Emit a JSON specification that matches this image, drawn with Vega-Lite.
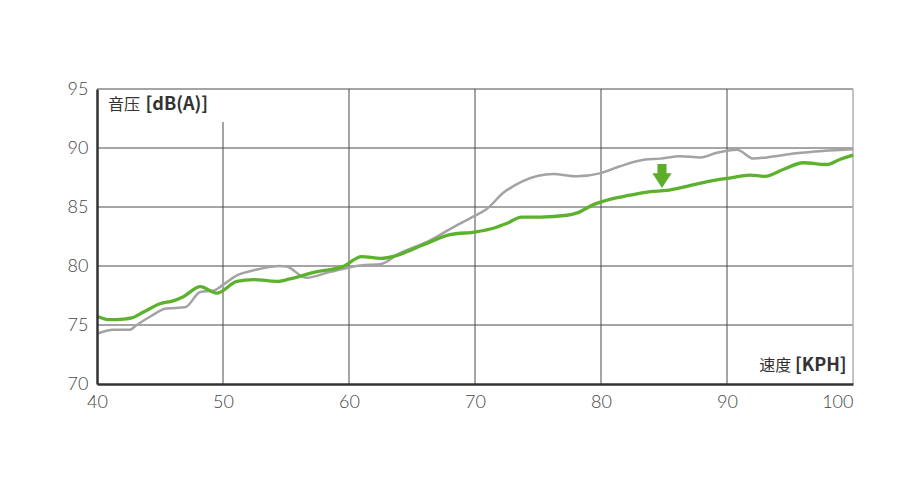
{
  "$schema": "https://vega.github.io/schema/vega-lite/v6.json",
  "autosize": {"type": "none"},
  "width": 756,
  "height": 295,
  "padding": {"left": 97, "top": 89, "right": 67, "bottom": 96},
  "background": "white",
  "config": {"view": {"stroke": null}},
  "datasets": {
    "green": [
      {"speed": 40.0, "db": 75.75}, {"speed": 41.0, "db": 75.45}, {"speed": 42.1, "db": 75.5}, {"speed": 42.75, "db": 75.6},
      {"speed": 43.7, "db": 76.1}, {"speed": 45.0, "db": 76.8}, {"speed": 46.05, "db": 77.05}, {"speed": 46.85, "db": 77.4},
      {"speed": 48.2, "db": 78.25}, {"speed": 49.5, "db": 77.7}, {"speed": 51.1, "db": 78.7}, {"speed": 52.4, "db": 78.85},
      {"speed": 54.3, "db": 78.7}, {"speed": 55.3, "db": 78.9}, {"speed": 57.4, "db": 79.5}, {"speed": 59.0, "db": 79.8},
      {"speed": 59.5, "db": 79.95}, {"speed": 61.0, "db": 80.8}, {"speed": 62.5, "db": 80.65}, {"speed": 63.8, "db": 80.9},
      {"speed": 65.9, "db": 81.8}, {"speed": 68.0, "db": 82.65}, {"speed": 70.1, "db": 82.9}, {"speed": 71.45, "db": 83.2},
      {"speed": 72.5, "db": 83.6}, {"speed": 73.7, "db": 84.15}, {"speed": 75.2, "db": 84.15}, {"speed": 77.3, "db": 84.3},
      {"speed": 78.1, "db": 84.5}, {"speed": 79.4, "db": 85.2}, {"speed": 80.7, "db": 85.65}, {"speed": 82.3, "db": 86.0},
      {"speed": 83.9, "db": 86.3}, {"speed": 85.2, "db": 86.4}, {"speed": 86.8, "db": 86.75}, {"speed": 88.65, "db": 87.2},
      {"speed": 90.2, "db": 87.45}, {"speed": 91.8, "db": 87.7}, {"speed": 93.0, "db": 87.6}, {"speed": 94.5, "db": 88.2},
      {"speed": 96.05, "db": 88.75}, {"speed": 97.9, "db": 88.6}, {"speed": 99.0, "db": 89.05}, {"speed": 100.0, "db": 89.4}
    ],
    "gray": [
      {"speed": 40.0, "db": 74.25}, {"speed": 41.3, "db": 74.6}, {"speed": 42.6, "db": 74.6}, {"speed": 43.15, "db": 75.0},
      {"speed": 44.2, "db": 75.7}, {"speed": 45.5, "db": 76.4}, {"speed": 47.0, "db": 76.5}, {"speed": 48.2, "db": 77.8},
      {"speed": 49.2, "db": 77.9}, {"speed": 50.0, "db": 78.4}, {"speed": 51.1, "db": 79.2}, {"speed": 52.7, "db": 79.7},
      {"speed": 54.5, "db": 80.0}, {"speed": 55.05, "db": 79.95}, {"speed": 56.6, "db": 79.0}, {"speed": 58.5, "db": 79.5},
      {"speed": 60.9, "db": 80.05}, {"speed": 62.5, "db": 80.15}, {"speed": 64.05, "db": 81.1}, {"speed": 66.2, "db": 82.05},
      {"speed": 68.3, "db": 83.3}, {"speed": 69.9, "db": 84.2}, {"speed": 70.9, "db": 84.8}, {"speed": 72.25, "db": 86.2},
      {"speed": 73.8, "db": 87.2}, {"speed": 76.2, "db": 87.8}, {"speed": 78.1, "db": 87.6}, {"speed": 79.9, "db": 87.85},
      {"speed": 81.5, "db": 88.45}, {"speed": 83.4, "db": 89.0}, {"speed": 84.7, "db": 89.1}, {"speed": 86.3, "db": 89.3},
      {"speed": 87.9, "db": 89.2}, {"speed": 89.2, "db": 89.6}, {"speed": 90.8, "db": 89.85}, {"speed": 92.1, "db": 89.1},
      {"speed": 93.15, "db": 89.2}, {"speed": 95.5, "db": 89.55}, {"speed": 97.6, "db": 89.75}, {"speed": 100.0, "db": 89.9}
    ]
  },
  "layer": [
    {
      "data": {"values": [
        {"sx": 50, "top": 92.2}, {"sx": 60, "top": 95}, {"sx": 70, "top": 95}, {"sx": 80, "top": 95}, {"sx": 90, "top": 95}
      ]},
      "mark": {"type": "rule", "color": "#4a4a4a", "strokeWidth": 1},
      "encoding": {
        "x": {"field": "sx", "type": "quantitative", "scale": {"domain": [40, 100], "nice": false, "zero": false},
          "axis": {"values": [40, 50, 60, 70, 80, 90, 100], "grid": false, "ticks": false, "domainColor": "#333333", "domainWidth": 2.5,
            "labelFont": "Lato", "labelFontWeight": 300, "labelFontSize": 18, "labelColor": "#444444", "labelPadding": 9,
            "labelAlign": {"expr": "datum.value == 100 ? 'right' : 'center'"},
            "title": null, "zindex": 2}},
        "y": {"field": "top", "type": "quantitative", "scale": {"domain": [70, 95], "nice": false, "zero": false},
          "axis": {"values": [70, 75, 80, 85, 90, 95], "grid": false, "ticks": false, "domainColor": "#333333", "domainWidth": 2.5,
            "labelFont": "Lato", "labelFontWeight": 300, "labelFontSize": 18, "labelColor": "#444444", "labelPadding": 9,
            "title": null, "zindex": 2}},
        "y2": {"datum": 70}
      }
    },
    {
      "data": {"values": [{"g": 75}, {"g": 80}, {"g": 85}, {"g": 90}, {"g": 95}]},
      "mark": {"type": "rule", "color": "#4a4a4a", "strokeWidth": 1},
      "encoding": {"y": {"field": "g", "type": "quantitative"}}
    },
    {
      "data": {"values": [{"sx": 100}]},
      "mark": {"type": "rule", "color": "#b0b0b0", "strokeWidth": 1.5},
      "encoding": {"x": {"field": "sx", "type": "quantitative"}}
    },
    {
      "data": {"name": "gray"},
      "mark": {"type": "line", "color": "#a3a3a3", "strokeWidth": 2.5, "interpolate": "monotone"},
      "encoding": {
        "x": {"field": "speed", "type": "quantitative"},
        "y": {"field": "db", "type": "quantitative"}
      }
    },
    {
      "data": {"name": "green"},
      "mark": {"type": "line", "color": "#5cb22d", "strokeWidth": 3.3, "interpolate": "monotone"},
      "encoding": {
        "x": {"field": "speed", "type": "quantitative"},
        "y": {"field": "db", "type": "quantitative"}
      }
    },
    {
      "data": {"values": [{"speed": 84.84, "db": 87.63}]},
      "mark": {"type": "point", "filled": true, "color": "#5cae2a", "opacity": 1, "size": 576,
        "shape": "M -0.38 -1 L 0.38 -1 L 0.38 -0.22 L 0.8 -0.22 L 0 1 L -0.8 -0.22 L -0.38 -0.22 Z"},
      "encoding": {
        "x": {"field": "speed", "type": "quantitative"},
        "y": {"field": "db", "type": "quantitative"}
      }
    },
    {
      "data": {"values": [
        {"speed": 40.87, "db": 93.62, "label": "音压"},
        {"speed": 92.55, "db": 71.55, "label": "速度"}
      ]},
      "mark": {"type": "text", "align": "left", "baseline": "middle", "font": "Noto Sans CJK SC", "fontSize": 16, "fontWeight": "normal", "color": "#333333"},
      "encoding": {
        "x": {"field": "speed", "type": "quantitative"},
        "y": {"field": "db", "type": "quantitative"},
        "text": {"field": "label"}
      }
    },
    {
      "data": {"values": [
        {"speed": 43.85, "db": 93.62, "label": "[dB(A)]"},
        {"speed": 95.4, "db": 71.55, "label": "[KPH]"}
      ]},
      "mark": {"type": "text", "align": "left", "baseline": "middle", "font": "Noto Sans CJK SC", "fontSize": 18, "fontWeight": "bold", "color": "#333333"},
      "encoding": {
        "x": {"field": "speed", "type": "quantitative"},
        "y": {"field": "db", "type": "quantitative"},
        "text": {"field": "label"}
      }
    }
  ]
}
